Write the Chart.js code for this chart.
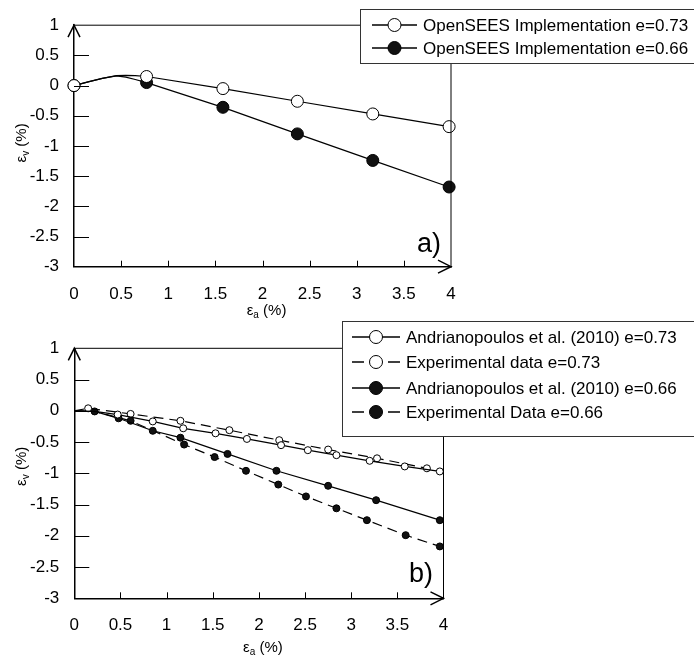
<!DOCTYPE html>
<html>
<head>
<meta charset="utf-8">
<script src="https://cdn.jsdelivr.net/npm/chart.js@4.4.1/dist/chart.umd.min.js"></script>
<style>
    body { margin: 0; background: #fff; }
    #marco { position: relative; width: 694px; height: 659px; }
    canvas { position: absolute; left: 0; }
</style>
</head>
<body>
<div id="marco">
    <canvas id="graficaA" width="694" height="329" style="top:0"></canvas>
    <canvas id="graficaB" width="694" height="344" style="top:315px"></canvas>
</div>
<script>
// ejes comunes
var ticksX = [0, 0.5, 1, 1.5, 2, 2.5, 3, 3.5, 4]
var ticksY = [1, 0.5, 0, -0.5, -1, -1.5, -2, -2.5, -3]

// grafica a) - tramo inicial sin marcador y puntos con marcador
var tramoX = [0.15, 0.3, 0.45, 0.55, 0.65]
var tramo073Y = [0.06, 0.12, 0.165, 0.17, 0.165]
var tramo066Y = [0.06, 0.12, 0.16, 0.14, 0.10]
var opensX = [0, 0.77, 1.58, 2.37, 3.17, 3.98]
var opens073Y = [0, 0.15, -0.05, -0.26, -0.47, -0.68]
var opens066Y = [0, 0.05, -0.36, -0.80, -1.24, -1.68]

// grafica b)
var andri073X = [0.47, 0.85, 1.18, 1.53, 1.87, 2.24, 2.53, 2.84, 3.20, 3.58, 3.96]
var andri073Y = [-0.06, -0.17, -0.28, -0.36, -0.45, -0.55, -0.63, -0.71, -0.80, -0.89, -0.97]
var exp073X = [0.15, 0.61, 1.15, 1.68, 2.22, 2.75, 3.28, 3.82]
var exp073Y = [0.04, -0.05, -0.16, -0.31, -0.47, -0.62, -0.76, -0.92]
var andri066X = [0.22, 0.48, 0.85, 1.15, 1.66, 2.19, 2.75, 3.27, 3.96]
var andri066Y = [-0.01, -0.12, -0.32, -0.43, -0.69, -0.96, -1.20, -1.43, -1.75]
var exp066X = [0.61, 1.19, 1.52, 1.86, 2.21, 2.51, 2.84, 3.17, 3.59, 3.96]
var exp066Y = [-0.16, -0.54, -0.74, -0.96, -1.18, -1.37, -1.56, -1.75, -1.99, -2.17]
// puntos de la curva sin marcador
var inicioX = [0]
var inicioY = [0]
var uni066X = [0.22]
var uni066Y = [-0.01]
var finExp073X = [3.96]
var finExp073Y = [-0.97]

var etiquetasA = ["OpenSEES Implementation e=0.73", "OpenSEES Implementation e=0.66"]
var etiquetasB = ["Andrianopoulos et al. (2010) e=0.73", "Experimental data e=0.73",
    "Andrianopoulos et al. (2010) e=0.66", "Experimental Data e=0.66"]

var fuente = '"Liberation Sans", Arial, sans-serif'

function puntos(xs, ys, marca) {
    var res = []
    for (let i = 0; i < xs.length; i++) {
        res.push({x: xs[i], y: ys[i], m: marca})
    }
    return res
}

function unir() {
    var res = []
    for (let i = 0; i < arguments.length; i++) res = res.concat(arguments[i])
    return res.sort(function (a, b) { return a.x - b.x })
}

function serie(label, data, relleno, radio, dash) {
    return {
        label: label,
        data: data,
        showLine: true,
        borderColor: '#000',
        borderWidth: 1.2,
        borderDash: dash,
        clip: false,
        pointBackgroundColor: relleno,
        pointBorderColor: '#000',
        pointBorderWidth: 1,
        pointRadius: function (c) { return c.raw && c.raw.m ? radio : 0 },
        pointHoverRadius: 0
    }
}

function tituloEje(ctx, sub, cx, cy, girar) {
    ctx.save()
    ctx.translate(cx, cy)
    if (girar) ctx.rotate(-Math.PI / 2)
    var fg = '15px ' + fuente, fs = '10px ' + fuente
    ctx.font = fg
    var w1 = ctx.measureText('ε').width, w3 = ctx.measureText(' (%)').width
    ctx.font = fs
    var w2 = ctx.measureText(sub).width
    var x = -(w1 + w2 + w3) / 2
    ctx.fillStyle = '#000'
    ctx.textAlign = 'left'
    ctx.textBaseline = 'middle'
    ctx.font = fg
    ctx.fillText('ε', x, 0)
    ctx.font = fs
    ctx.fillText(sub, x + w1, 4)
    ctx.font = fg
    ctx.fillText(' (%)', x + w1 + w2, 0)
    ctx.restore()
}

var decoracion = {
    id: 'decoracion',
    afterDraw: function (chart, args, op) {
        var ctx = chart.ctx, a = chart.chartArea
        var sx = chart.scales.x, sy = chart.scales.y
        ctx.save()
        ctx.strokeStyle = '#000'
        ctx.lineWidth = 1
        // marco superior y derecho
        ctx.beginPath()
        ctx.moveTo(a.left, a.top)
        ctx.lineTo(a.right, a.top)
        ctx.lineTo(a.right, a.bottom)
        ctx.stroke()
        // marcas hacia dentro
        ctx.beginPath()
        ticksY.forEach(function (v) {
            if (v > -3 && v < 1) {
                var y = Math.round(sy.getPixelForValue(v)) + 0.5
                ctx.moveTo(a.left, y); ctx.lineTo(a.left + 15, y)
            }
        })
        ticksX.forEach(function (v) {
            if (v > 0 && v < 4) {
                var x = Math.round(sx.getPixelForValue(v)) + 0.5
                ctx.moveTo(x, a.bottom); ctx.lineTo(x, a.bottom - 6)
            }
        })
        ctx.stroke()
        // flechas
        ctx.lineWidth = 1.5
        ctx.beginPath()
        ctx.moveTo(a.left - 6, a.top + 12); ctx.lineTo(a.left, a.top); ctx.lineTo(a.left + 6, a.top + 12)
        ctx.moveTo(a.right - 13, a.bottom - 6.5); ctx.lineTo(a.right, a.bottom); ctx.lineTo(a.right - 13, a.bottom + 6.5)
        ctx.stroke()

        // leyenda
        var ley = op.leyenda
        ctx.fillStyle = '#fff'
        ctx.fillRect(ley.x, ley.y, ley.w, ley.h)
        ctx.strokeStyle = '#333'
        ctx.lineWidth = 1
        ctx.strokeRect(ley.x + 0.5, ley.y + 0.5, ley.w, ley.h)
        ctx.font = '17px ' + fuente
        ctx.textBaseline = 'middle'
        ctx.textAlign = 'left'
        chart.data.datasets.forEach(function (ds, i) {
            var y = ley.filas[i]
            ctx.strokeStyle = '#000'
            ctx.lineWidth = 1.3
            ctx.beginPath()
            if (ds.borderDash.length) {
                ctx.moveTo(ley.x0, y); ctx.lineTo(ley.x0 + 12, y)
                ctx.moveTo(ley.x1 - 12, y); ctx.lineTo(ley.x1, y)
            } else {
                ctx.moveTo(ley.x0, y); ctx.lineTo(ley.x1, y)
            }
            ctx.stroke()
            ctx.beginPath()
            ctx.arc((ley.x0 + ley.x1) / 2, y, 6.5, 0, Math.PI * 2)
            ctx.fillStyle = ds.pointBackgroundColor
            ctx.fill()
            ctx.lineWidth = 1
            ctx.stroke()
            ctx.fillStyle = '#000'
            ctx.fillText(ds.label, ley.xt, y + 1)
        })

        // letra de la grafica
        ctx.font = '27px ' + fuente
        ctx.textBaseline = 'alphabetic'
        ctx.fillText(op.letra, op.letraX, op.letraY)

        // titulos de ejes
        tituloEje(ctx, 'a', (a.left + a.right) / 2 + 4, op.tituloX, false)
        tituloEje(ctx, 'v', 22, (a.top + a.bottom) / 2 + op.tituloYdy, true)
        ctx.restore()
    }
}

function escalas(anchoY, altoX) {
    var fuenteTicks = {family: fuente, size: 17}
    return {
        x: {
            type: 'linear', min: 0, max: 4,
            afterBuildTicks: function (s) { s.ticks = ticksX.map(function (v) { return {value: v} }) },
            afterFit: function (s) { s.height = altoX },
            grid: {display: false, drawTicks: false},
            border: {display: true, color: '#000', width: 1.5},
            ticks: {padding: 17, color: '#000', font: fuenteTicks, maxRotation: 0, autoSkip: false,
                callback: function (v) { return String(v) }}
        },
        y: {
            type: 'linear', min: -3, max: 1,
            afterBuildTicks: function (s) { s.ticks = ticksY.map(function (v) { return {value: v} }) },
            afterFit: function (s) { s.width = anchoY },
            grid: {display: false, drawTicks: false},
            border: {display: true, color: '#000', width: 1.5},
            ticks: {padding: 15, color: '#000', font: fuenteTicks, autoSkip: false,
                callback: function (v) { return String(v) }}
        }
    }
}

new Chart(document.getElementById('graficaA').getContext('2d'), {
    type: 'scatter',
    data: {
        datasets: [
            serie(etiquetasA[0], unir(puntos(opensX, opens073Y, true), puntos(tramoX, tramo073Y, false)), '#fff', 6, []),
            serie(etiquetasA[1], unir(puntos(opensX, opens066Y, true), puntos(tramoX, tramo066Y, false)), '#111', 6, [])
        ]
    },
    options: {
        responsive: false,
        animation: false,
        devicePixelRatio: 1,
        layout: {padding: {top: 20.7, right: 243, bottom: 0, left: 0}},
        scales: escalas(74, 62.3),
        plugins: {
            legend: {display: false},
            tooltip: {enabled: false},
            decoracion: {
                leyenda: {x: 360, y: 9, w: 340, h: 54, filas: [25, 48], x0: 372, x1: 417, xt: 423},
                letra: 'a)', letraX: 417, letraY: 252,
                tituloX: 311, tituloYdy: -3
            }
        }
    },
    plugins: [decoracion]
});

new Chart(document.getElementById('graficaB').getContext('2d'), {
    type: 'scatter',
    data: {
        datasets: [
            serie(etiquetasB[0], unir(puntos(inicioX, inicioY, false), puntos(uni066X, uni066Y, false), puntos(andri073X, andri073Y, true)), '#fff', 3.5, []),
            serie(etiquetasB[1], unir(puntos(inicioX, inicioY, false), puntos(exp073X, exp073Y, true), puntos(finExp073X, finExp073Y, false)), '#fff', 3.5, [10, 6]),
            serie(etiquetasB[2], unir(puntos(inicioX, inicioY, false), puntos(andri066X, andri066Y, true)), '#111', 3.5, []),
            serie(etiquetasB[3], unir(puntos(inicioX, inicioY, false), puntos(uni066X, uni066Y, false), puntos(exp066X, exp066Y, true)), '#111', 3.5, [10, 6])
        ]
    },
    options: {
        responsive: false,
        animation: false,
        devicePixelRatio: 1,
        layout: {padding: {top: 33.3, right: 250.5, bottom: 0, left: 0}},
        scales: escalas(74.3, 60.7),
        plugins: {
            legend: {display: false},
            tooltip: {enabled: false},
            decoracion: {
                leyenda: {x: 342, y: 6, w: 360, h: 115, filas: [22, 47, 73, 97], x0: 352, x1: 400, xt: 406},
                letra: 'b)', letraX: 409, letraY: 267,
                tituloX: 333, tituloYdy: -7
            }
        }
    },
    plugins: [decoracion]
});
</script>
</body>
</html>
